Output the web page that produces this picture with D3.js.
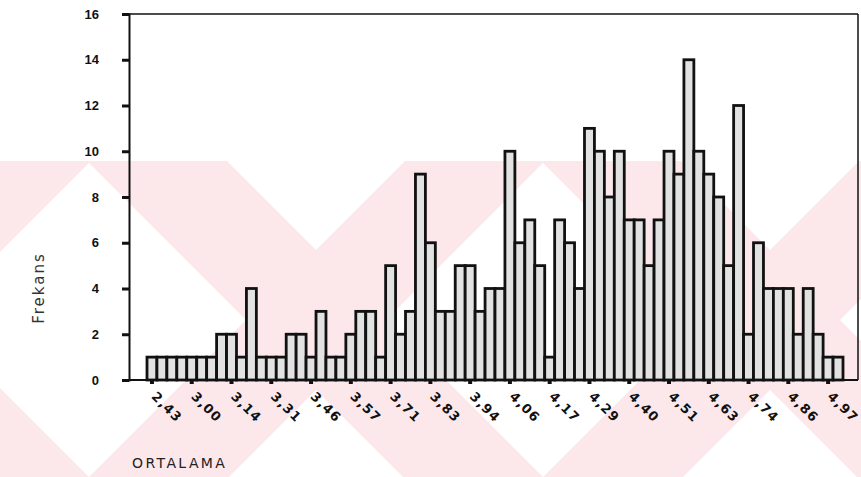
<!DOCTYPE html>
<html>
<head>
<meta charset="utf-8">
<script src="https://cdn.jsdelivr.net/npm/d3@7"></script>
<style>
  body { margin: 0; background: #fff; }
  svg { display: block; }
</style>
</head>
<body>
<div id="container"></div>
<script>
'use strict';

// Frequency of each mean value (one bar per distinct mean).
const freq = [
    1, 1, 1, 1, 1, 1, 1, 2, 2, 1, 4, 1, 1, 1, 2, 2, 1, 3, 1, 1,
    2, 3, 3, 1, 5, 2, 3, 9, 6, 3, 3, 5, 5, 3, 4, 4, 10, 6, 7, 5,
    1, 7, 6, 4, 11, 10, 8, 10, 7, 7, 5, 7, 10, 9, 14, 10, 9, 8, 5, 12,
    2, 6, 4, 4, 4, 2, 4, 2, 1, 1
];
// Labels shown under every 4th bar.
const tickLabels = [
    '2,43', '3,00', '3,14', '3,31', '3,46', '3,57', '3,71', '3,83', '3,94',
    '4,06', '4,17', '4,29', '4,40', '4,51', '4,63', '4,74', '4,86', '4,97'
];
const tickEvery = 4;
const yTicks = [0, 2, 4, 6, 8, 10, 12, 14, 16];

const w = 861;
const h = 477;
const axisX = 129;      // y-axis position.
const frameRight = 858;

const svg = d3.select('#container')
    .append('svg')
    .attr('width', w)
    .attr('height', h);

// Background watermark (big pink X shapes).
const wm = svg.append('g').attr('fill', '#fce7eb');
const wmTop = 161, wmBottom = 477, cy = 320, arm = 70;
[-138, 316, 770, 1224].forEach(c => {
    const a = c - cy, b = c + cy;
    wm.append('polygon').attr('points', [
        [wmTop + a - arm, wmTop], [wmTop + a + arm, wmTop],
        [wmBottom + a + arm, wmBottom], [wmBottom + a - arm, wmBottom]
    ].join(' '));
    wm.append('polygon').attr('points', [
        [b - arm - wmTop, wmTop], [b + arm - wmTop, wmTop],
        [b + arm - wmBottom, wmBottom], [b - arm - wmBottom, wmBottom]
    ].join(' '));
});

// Scales.
const xScale = d3.scaleBand()
    .domain(d3.range(freq.length))
    .range([147, 843])
    .padding(0);
const yScale = d3.scaleLinear()
    .domain([0, 16])
    .range([380, 14]);

// Bars.
svg.append('g')
    .selectAll('rect')
    .data(freq)
    .enter()
    .append('rect')
    .attr('x', (d, i) => xScale(i))
    .attr('y', d => yScale(d))
    .attr('width', xScale.bandwidth())
    .attr('height', d => yScale(0) - yScale(d))
    .attr('fill', '#e2e2e2')
    .attr('stroke', '#111')
    .attr('stroke-width', 2.8);

// Frame lines.
const frame = svg.append('g').attr('stroke', '#111').attr('fill', 'none');
frame.append('line')
    .attr('x1', axisX - 7).attr('x2', frameRight)
    .attr('y1', yScale(0)).attr('y2', yScale(0))
    .attr('stroke-width', 2);
frame.append('line')
    .attr('x1', axisX).attr('x2', frameRight)
    .attr('y1', yScale(16)).attr('y2', yScale(16))
    .attr('stroke-width', 1.5);
frame.append('line')
    .attr('x1', frameRight).attr('x2', frameRight)
    .attr('y1', yScale(16)).attr('y2', yScale(0))
    .attr('stroke-width', 1.5);

// y-axis.
const yAxis = d3.axisLeft(yScale)
    .tickValues(yTicks)
    .tickSize(7)
    .tickPadding(23);
const yg = svg.append('g')
    .attr('transform', 'translate(' + axisX + ', 0)')
    .call(yAxis);
yg.select('.domain').attr('stroke', '#111').attr('stroke-width', 2);
yg.selectAll('.tick line').attr('stroke', '#111').attr('stroke-width', 3);
yg.selectAll('.tick text')
    .attr('fill', '#111')
    .style('font-family', '"Liberation Sans", Arial, sans-serif')
    .style('font-weight', 'bold')
    .style('font-size', '13px');

// x-axis.
const xAxis = d3.axisBottom(xScale)
    .tickValues(d3.range(0, freq.length, tickEvery))
    .tickFormat((d, i) => tickLabels[i])
    .tickSize(4);
const xg = svg.append('g')
    .attr('transform', 'translate(0, ' + yScale(0) + ')')
    .call(xAxis);
xg.select('.domain').remove();
xg.selectAll('.tick line').attr('stroke', '#111').attr('stroke-width', 4);
xg.selectAll('.tick text')
    .attr('fill', '#111')
    .attr('x', 0)
    .attr('y', 0)
    .attr('dy', '0.35em')
    .attr('text-anchor', 'start')
    .attr('transform', 'translate(2, 14) rotate(45)')
    .style('font-family', '"DejaVu Sans", sans-serif')
    .style('font-weight', 'bold')
    .style('font-size', '13px')
    .style('letter-spacing', '1.2px');

// Axis titles.
svg.append('text')
    .attr('transform', 'translate(44, 288) rotate(-90)')
    .attr('text-anchor', 'middle')
    .attr('fill', '#333')
    .style('font-family', '"DejaVu Sans", sans-serif')
    .style('font-size', '15px')
    .style('letter-spacing', '2px')
    .text('Frekans');

svg.append('text')
    .attr('x', 132)
    .attr('y', 468)
    .attr('fill', '#222')
    .style('font-family', '"DejaVu Sans", sans-serif')
    .style('font-size', '14px')
    .style('letter-spacing', '2.4px')
    .text('ORTALAMA');
</script>
</body>
</html>
